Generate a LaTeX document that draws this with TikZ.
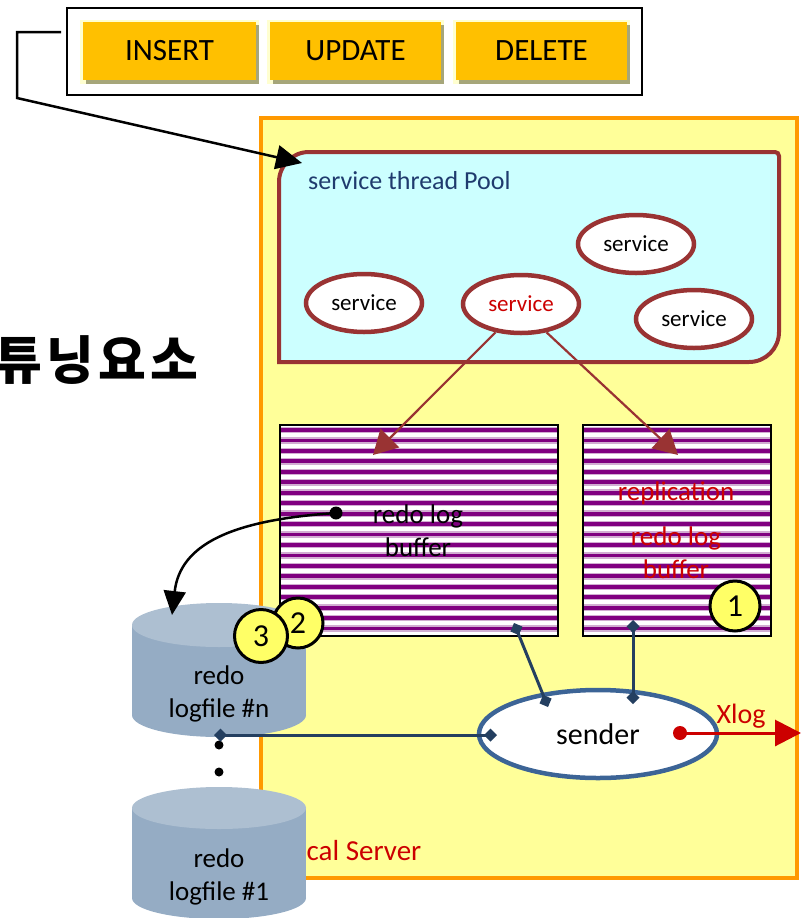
\documentclass[tikz,border=0pt]{standalone}
\usepackage{fontspec}
\setmainfont{Carlito}
\newfontfamily\krfont{Noto Sans CJK KR}[LetterSpace=8]
\usetikzlibrary{arrows.meta,shapes.geometric,calc}
\definecolor{opsfill}{HTML}{FFC000}
\definecolor{opsshadow}{HTML}{A6A67A}
\definecolor{opsglow}{HTML}{FFFFD0}
\definecolor{srvfill}{HTML}{FFFF99}
\definecolor{srvline}{HTML}{FF9900}
\definecolor{poolfill}{HTML}{CCFFFF}
\definecolor{brownline}{HTML}{993333}
\definecolor{pooltext}{HTML}{1F3B6E}
\definecolor{redtext}{HTML}{CC0000}
\definecolor{stripedark}{HTML}{800080}
\definecolor{stripelight}{HTML}{D2AED2}
\definecolor{cylbody}{HTML}{95ACC4}
\definecolor{cyltop}{HTML}{ADBFD1}
\definecolor{navyline}{HTML}{243F60}
\definecolor{senderline}{HTML}{3C6496}
\definecolor{badgefill}{HTML}{FFFF66}
\tikzset{
  opbox/.style={fill=opsfill, minimum height=58pt, inner sep=0pt, font=\fontsize{31}{36}\selectfont},
  svc/.style={ellipse, draw=brownline, line width=4.5pt, fill=white, minimum width=116pt, minimum height=58pt, inner sep=0pt, font=\fontsize{23}{27}\selectfont},
  bufbox/.style={fill=white, inner sep=0pt},
  badge/.style={circle, draw=black, line width=3pt, fill=badgefill, minimum size=50pt, inner sep=0pt, font=\fontsize{32}{36}\selectfont},
  cylanchor/.style={inner sep=0pt, minimum width=174pt},
  cyltext/.style={align=center, font=\fontsize{27}{33}\selectfont, inner sep=0pt},
  navy/.style={draw=navyline, line width=3pt, {Diamond[length=13pt,width=13pt]}-{Diamond[length=13pt,width=13pt]}},
  brownarrow/.style={draw=brownline, line width=2.2pt, -{Triangle[length=24pt,width=26pt]}},
}
\newcommand{\cylinderdraw}[4]{% cx, top centre y, bottom centre y, ry
  \fill[cylbody] (#1-87,#2) rectangle (#1+87,#3);
  \fill[cylbody] (#1,#3) ellipse [x radius=87pt, y radius=#4pt];
  \fill[cyltop] (#1,#2) ellipse [x radius=87pt, y radius=#4pt];
}
\begin{document}
\begin{tikzpicture}[x=1pt,y=-1pt]
\useasboundingbox (0,0) rectangle (803,918);
% Korean title (partly cut off)
\node[anchor=east, inner sep=0pt, font=\krfont\bfseries\fontsize{52}{60}\selectfont] (kor) at (199,360) {튜닝요소};
% operations box
\node[draw=black, line width=2.5pt, minimum width=575pt, minimum height=87pt, inner sep=0pt] (ops) at (354.5,51.5) {};
\foreach \nm/\cx/\w/\t in {ins/169.5/173/INSERT, upd/355.5/171/UPDATE, del/541.5/171/DELETE}{
  \fill[opsglow] (\cx-\w/2-3,20) rectangle (\cx+\w/2+3,84);
  \fill[opsshadow] (\cx-\w/2+3,25) rectangle (\cx+\w/2+3,84);
  \node[opbox, minimum width=\w pt] (\nm) at (\cx,51) {\t};
}
% Local server
\node[draw=srvline, fill=srvfill, line width=4pt, minimum width=536pt, minimum height=760pt, inner sep=0pt] (server) at (529,498) {};
\node[anchor=base west, inner sep=0pt, text=redtext, font=\fontsize{29}{34}\selectfont] (srvlabel) at (279,860) {Local Server};
% pool
\draw[draw=brownline, fill=poolfill, line width=4pt]
  (279,362) -- (279,182) .. controls (279,165.4) and (292.4,152) .. (309,152)
  -- (775,152) .. controls (777.2,152) and (779,153.8) .. (779,156)
  -- (779,332) .. controls (779,348.6) and (765.6,362) .. (749,362) -- cycle;
\node[anchor=west, inner sep=0pt, text=pooltext, font=\fontsize{26}{30}\selectfont] (pooltitle) at (308,181) {service thread Pool};
\coordinate (poolcorner) at (302,163);
% services
\node[svc] (s1) at (364,303) {service};
\node[svc, text=redtext] (s2) at (521,304) {service};
\node[svc] (s3) at (636,244) {service};
\node[svc] (s4) at (694,319) {service};
% buffers
\node[bufbox, minimum width=278pt, minimum height=211pt] (bufL) at (419,530.5) {};
\node[bufbox, minimum width=188pt, minimum height=211pt] (bufR) at (677,530.5) {};
\foreach \b in {bufL,bufR}{
  \begin{scope}
    \clip (\b.north west) rectangle (\b.south east);
    \foreach \i in {0,...,20}{
      \pgfmathsetmacro\yy{425+5+\i*10.45}
      \draw[stripelight, line width=6.5pt] ($(\b.west)+(0,\yy-530.5)$) -- ($(\b.east)+(0,\yy-530.5)$);
      \draw[stripedark, line width=3.8pt] ($(\b.west)+(0,\yy-530.5)$) -- ($(\b.east)+(0,\yy-530.5)$);
    }
  \end{scope}
  \draw[black, line width=1.6pt] (\b.north west) rectangle (\b.south east);
}
\node[align=center, inner sep=0pt, font=\fontsize{27}{33}\selectfont] (bufLtxt) at (418,531) {redo log\\buffer};
\node[inner sep=0pt, text=redtext, font=\fontsize{27}{33}\selectfont] (repltxt) at (676,493) {replication};
\node[align=center, inner sep=0pt, text=redtext, font=\fontsize{27}{33}\selectfont] (bufRtxt) at (676,553) {redo log\\buffer};
\node[badge] (b1) at (735,606) {1};
% arrows from service to buffers
\coordinate (bufLin) at (373,455);
\coordinate (bufRin) at (678,455);
\draw[brownarrow] (s2.228) -- (bufLin);
\draw[brownarrow] (s2.312) -- (bufRin);
% cylinders
\cylinderdraw{219}{625}{715}{22}
\cylinderdraw{219}{808}{898}{21}
\node[cylanchor, minimum height=134pt] (cyl1) at (219,670) {};
\node[cylanchor, minimum height=132pt] (cyl2) at (219,853) {};
\node[cyltext] (cyl1txt) at (219,694) {redo\\logfile \#n};
\node[cyltext] (cyl2txt) at (219,877) {redo\\logfile \#1};
\node[circle, fill=black, minimum size=9pt, inner sep=0pt] (dotA) at (219,745) {};
\node[circle, fill=black, minimum size=9pt, inner sep=0pt] (dotB) at (219,772) {};
% badges 2 and 3
\node[badge] (b2) at (298,623) {2};
\node[badge, minimum size=53pt] (b3) at (261,636) {3};
% redo buffer to logfile arrow
\node[circle, fill=black, minimum size=13pt, inner sep=0pt] (bufdot) at (336,513) {};
\coordinate (cyl1in) at (172,615);
\draw[black, line width=2.5pt, -{Triangle[length=24pt,width=22pt]}] (bufdot.center) .. controls (230,520) and (180,545) .. (cyl1in);
% sender
\node[ellipse, draw=senderline, fill=white, line width=4.5pt, minimum width=238pt, minimum height=88pt, inner sep=0pt, font=\fontsize{30}{36}\selectfont] (sender) at (598,734) {sender};
\coordinate (bufLout) at (514,623);
\coordinate (bufRout) at (633,620);
\coordinate (sendA) at (548,707);
\coordinate (sendB) at (633,704);
\coordinate (sendC) at (497,735);
\coordinate (cyl1out) at (214,735);
\draw[navy] (bufLout) -- (sendA);
\draw[navy] (bufRout) -- (sendB);
\draw[navy] (cyl1out) -- (sendC);
% Xlog
\node[circle, fill=redtext, minimum size=14pt, inner sep=0pt] (xdot) at (680,733) {};
\coordinate (xout) at (801,733);
\draw[redtext, line width=3pt, -{Triangle[length=26pt,width=26pt]}] (xdot.center) -- (xout);
\node[inner sep=0pt, text=redtext, font=\fontsize{28}{32}\selectfont] (xlog) at (741,716) {Xlog};
% elbow connector
\coordinate (opsstub) at (61,32);
\draw[black, line width=2.5pt, -{Triangle[length=26pt,width=24pt]}] (opsstub) -- (17,32) -- (17,98) -- (poolcorner);
\end{tikzpicture}
\end{document}
